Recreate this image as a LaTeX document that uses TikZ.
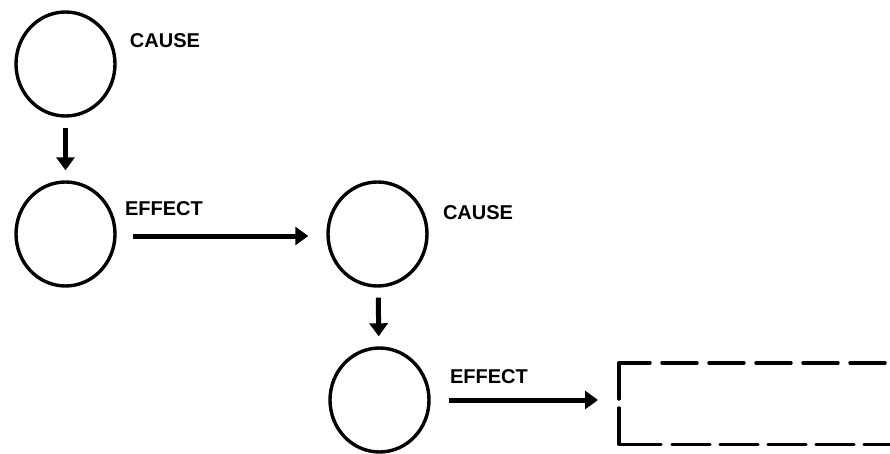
\documentclass[tikz,border=0pt]{standalone}
\usepackage{fontspec}
\setmainfont{Liberation Sans}
\usetikzlibrary{shapes.geometric,arrows.meta}
\begin{document}
\begin{tikzpicture}[x=1pt,y=-1pt,
  state/.style={ellipse,draw,line width=3.4pt,inner sep=0pt,
    minimum width=99pt,minimum height=104pt},
  tag/.style={font=\fontsize{20}{22}\selectfont\bfseries,inner sep=0pt},
  flow/.style={line width=5pt,-{Triangle[length=13pt,width=18pt]}},
  frame/.style={line width=3.4pt,line cap=round,line join=round},
]
\useasboundingbox (0,0) rectangle (890,454);
\clip (0,0) rectangle (890,454);

% cause/effect circles
\node[state] (c1) at (65.5,64) {};
\node[state] (c2) at (65.5,234) {};
\node[state] (c3) at (377.5,234) {};
\node[state] (c4) at (379.5,400) {};

% labels
\node[tag] (t1) at (165,41) {CAUSE};
\node[tag] (t2) at (164,209) {EFFECT};
\node[tag] (t3) at (478,213) {CAUSE};
\node[tag] (t4) at (489,377) {EFFECT};

% open dashed box on the right
\node[minimum width=300pt,minimum height=81pt,inner sep=0pt,anchor=west] (box) at (619,403.5) {};
\coordinate (boxgap) at (box.west);

% connectors
\draw[flow,shorten <=10pt,shorten >=10pt] (c1) -- (c2);
\draw[flow,shorten <=16pt,shorten >=18pt] (c2.east) ++(0,2) coordinate (a2) (a2) -- (a2 -| c3.west);
\draw[flow,shorten <=10pt,shorten >=10pt] (c3) -- (c4);
\draw[flow,shorten <=18pt,shorten >=21pt] (c4.east) -- (c4.east -| box.west);

% box border: solid corners, dashed long sides
\draw[frame] ([yshift=4.5pt]boxgap) -- (box.north west) -- ++(31,0);
\draw[frame] ([yshift=-4.5pt]boxgap) -- (box.south west) -- ++(42,0);
\draw[frame,dash pattern=on 35pt off 12pt] ([xshift=43pt]box.north west) -- (box.north east);
\draw[frame,dash pattern=on 38pt off 10pt] ([xshift=53pt]box.south west) -- (box.south east);
\end{tikzpicture}
\end{document}
